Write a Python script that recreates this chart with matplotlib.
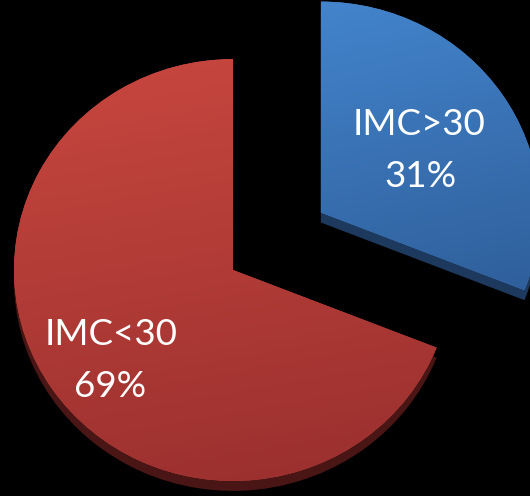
import matplotlib
matplotlib.use('Agg')
import matplotlib.pyplot as plt
import numpy as np
from matplotlib.colors import to_rgb

labels = ["IMC>30", "IMC<30"]
values = [31, 69]
colors_top = ["#4384cc", "#c8473f"]
colors_bottom = ["#2f5f9b", "#992f2e"]
colors_side = ["#1d3a5e", "#4a1615"]

W, H = 530, 496
K = 0.963  # vertical squash of the pie (perspective)

fig = plt.figure(figsize=(W / 100, H / 100), dpi=100, facecolor='black')
ax = fig.add_axes([0, 0, 1, 1])
ax.set_facecolor('black')


def py(ypx):
    return (H - ypx) / K


cx, cy = 233, py(270)
r = 219
explode = [0.485 * r, 0.0]  # pie explode is in data units
depth = 10 / K

side, _ = ax.pie(values, startangle=90, counterclock=False, colors=colors_side,
                 explode=explode, center=(cx, cy - depth), radius=r, frame=True,
                 wedgeprops=dict(linewidth=0, zorder=1))
top, _ = ax.pie(values, startangle=90, counterclock=False, colors=colors_top,
                explode=explode, center=(cx, cy), radius=r, frame=True,
                wedgeprops=dict(linewidth=0, zorder=2))

# gradient shading of top surfaces
n = 256
for w, c0, c1 in zip(top, colors_top, colors_bottom):
    ext = w.get_path().get_extents()
    x0, y0, x1, y1 = ext.x0, ext.y0, ext.x1, ext.y1
    yy, xx = np.mgrid[0:1:n * 1j, 0:1:n * 1j]
    t = np.clip(0.85 * yy + 0.15 * xx, 0, 1)[..., None]
    a = np.array(to_rgb(c0))[None, None, :]
    b = np.array(to_rgb(c1))[None, None, :]
    img = a * (1 - t) + b * t
    im = ax.imshow(img, extent=(x0, x1, y0, y1), origin='upper', aspect='auto',
                   zorder=3, interpolation='bilinear')
    im.set_clip_path(w)

pcts = [f"{v}%" for v in values]
fam = ['Lato', 'DejaVu Sans']
fs = 26.5
# blue label
ax.text(419, py(135), labels[0], ha='center', va='baseline', color='white',
        fontsize=fs, family=fam, zorder=5)
ax.text(420, py(187), pcts[0], ha='center', va='baseline', color='white',
        fontsize=fs, family=fam, zorder=5)
# red label
ax.text(111, py(345), labels[1], ha='center', va='baseline', color='white',
        fontsize=fs, family=fam, zorder=5)
ax.text(110, py(397), pcts[1], ha='center', va='baseline', color='white',
        fontsize=fs, family=fam, zorder=5)

ax.set_xlim(0, W)
ax.set_ylim(0, H / K)
ax.set_aspect('auto')
ax.axis('off')

fig.savefig('out.png', dpi=100, facecolor='black')
